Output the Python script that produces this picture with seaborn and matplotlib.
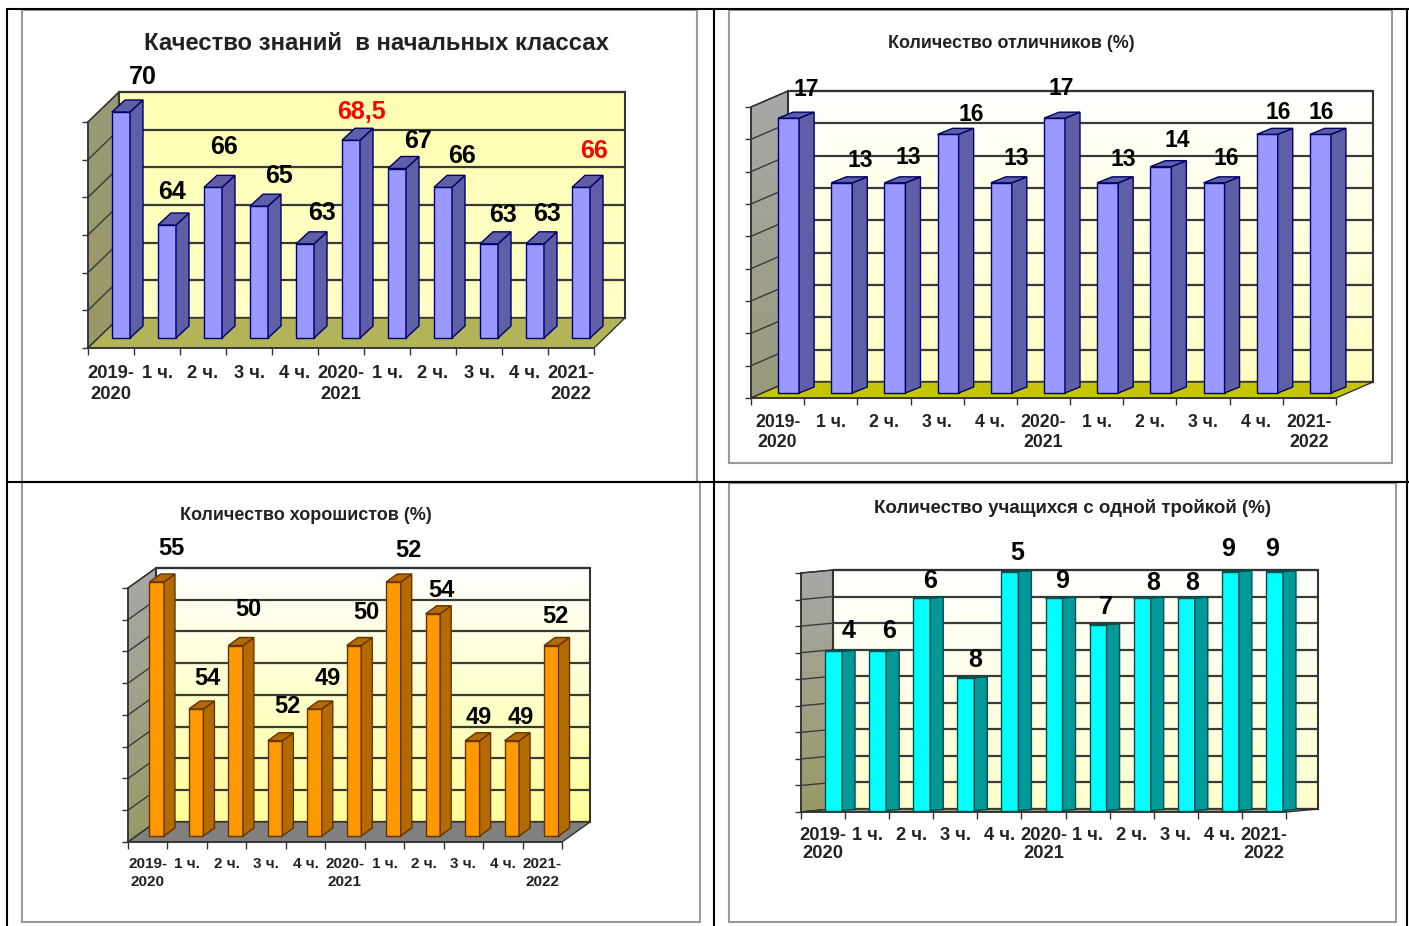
import numpy as np
import pandas as pd
import matplotlib
matplotlib.use("Agg")
import matplotlib.pyplot as plt
import seaborn as sns
from matplotlib.colors import LinearSegmentedColormap
from matplotlib.patches import Polygon, Rectangle
from matplotlib.transforms import Affine2D, IdentityTransform

W, H = 1409, 926

periods = ["2019-\n2020", "1 ч.", "2 ч.", "3 ч.", "4 ч.", "2020-\n2021",
           "1 ч.", "2 ч.", "3 ч.", "4 ч.", "2021-\n2022"]

# bar heights as drawn, the printed labels do not always agree with them
quality_values = [70, 64, 66, 65, 63, 68.5, 67, 66, 63, 63, 66]
quality_labels = ["70", "64", "66", "65", "63", "68,5", "67", "66", "63", "63", "66"]
excellent_values = [17, 13, 13, 16, 13, 17, 13, 14, 13, 16, 16]
excellent_labels = ["17", "13", "13", "16", "13", "17", "13", "14", "16", "16", "16"]
good_values = [55, 51, 53, 50, 51, 53, 55, 54, 50, 50, 53]
good_labels = ["55", "54", "50", "52", "49", "50", "52", "54", "49", "49", "52"]
one_three_values = [6, 6, 8, 5, 9, 8, 7, 8, 8, 9, 9]
one_three_labels = ["4", "6", "6", "8", "5", "9", "7", "8", "8", "9", "9"]

panels = [
    dict(title="Качество знаний  в начальных классах", title_xy=(376, 44), title_size=17.2,
         values=quality_values, labels=quality_labels, red=[5, 10],
         box=(88, 594, 122, 348), depth=(31, 30), bar_off=(10, 10), bar_w=18, bar_depth=(13, 12),
         ylim=(58, 70), step=2,
         label_dx=[22, 5, 11, 20, 17, 10, 21, 19, 14, 12, 13],
         label_dy=[35, 33, 40, 30, 31, 28, 27, 31, 29, 30, 36],
         label_size=18, tick_size=13.2, tick_pad=12, line_sp=1.3,
         front="#9999FF", side="#5F5FA8", edge="#000066",
         wall=("#FFFFC8", "#FFFFB4"), floor="#B3B35A", left=("#999966", "#999977")),
    dict(title="Количество отличников (%)", title_xy=(1011, 43), title_size=12.9,
         values=excellent_values, labels=excellent_labels, red=[],
         box=(751, 1336, 107, 398), depth=(37, 16), bar_off=(11, 5), bar_w=21, bar_depth=(15, 6),
         ylim=(0, 18), step=2,
         label_dx=[18, 19, 13, 23, 15, 7, 16, 16, 12, 11, 1],
         label_dy=[29, 22, 25, 20, 24, 30, 23, 26, 24, 22, 22],
         label_size=16.5, tick_size=12.7, tick_pad=11.5, line_sp=1.2,
         front="#9999FF", side="#5F5FA8", edge="#000066",
         wall=("#FFFFC0", "#FFFFFF"), floor="#C4C400", left=("#99997A", "#A8A8A8")),
    dict(title="Количество хорошистов (%)", title_xy=(306, 515), title_size=13,
         values=good_values, labels=good_labels, red=[],
         box=(128, 562, 588, 842), depth=(28, 20), bar_off=(9, 6), bar_w=14.5, bar_depth=(11, 8),
         ylim=(47, 55), step=1,
         label_dx=[15, 11, 13, 12, 13, 12, 15, 8, 6, 9, 4],
         label_dy=[33, 30, 36, 34, 30, 33, 31, 23, 23, 23, 29],
         label_size=17, tick_size=11, tick_pad=11, line_sp=1.3,
         front="#FF9900", side="#B36B00", edge="#663300",
         wall=("#FFFF99", "#FFFFFF"), floor="#808080", left=("#999966", "#A8A8A8")),
    dict(title="Количество учащихся с одной тройкой (%)", title_xy=(1072, 508), title_size=13.5,
         values=one_three_values, labels=one_three_labels, red=[],
         box=(801, 1286, 573, 812), depth=(32, 3), bar_off=(10.5, 1.5), bar_w=17, bar_depth=(13, 1),
         ylim=(0, 9), step=1,
         label_dx=[15, 11, 8, 9, 7, 8, 8, 11, 6, -2, -2],
         label_dy=[20, 20, 17, 18, 18, 17, 18, 15, 15, 22, 22],
         label_size=18, tick_size=13.2, tick_pad=10.5, line_sp=1.1,
         front="#00FFFF", side="#009999", edge="#004D4D",
         wall=("#FFFFCC", "#FFFFFF"), floor="#999966", left=("#999966", "#A8A8A8")),
]

sns.set_style("white")
plt.rcParams["font.family"] = ["Liberation Sans", "DejaVu Sans"]

fig = plt.figure(figsize=(W / 100, H / 100), dpi=100, facecolor="white")

# page: table rules and the grey chart frames, in picture pixels
bg = fig.add_axes([0, 0, 1, 1])
bg.set_xlim(0, W)
bg.set_ylim(H, 0)
bg.axis("off")
bg.plot([7, 7], [9, H], color="black", lw=1.5)
bg.plot([714, 714], [9, H], color="black", lw=1.5)
bg.plot([1407, 1407], [9, H], color="black", lw=1.5)
bg.plot([7, W], [9, 9], color="black", lw=1.5)
bg.plot([7, W], [482, 482], color="black", lw=1.5)
for x0, x1, y0, y1 in [(22, 697, 10, 482), (729, 1392, 10, 463), (22, 700, 482, 922), (729, 1396, 483, 922)]:
    bg.add_patch(Rectangle((x0, y0), x1 - x0, y1 - y0, facecolor="white", edgecolor="#9A9A9A", lw=1.5))
bg.plot([714, W], [482, 482], color="black", lw=1.5)


def gradient(ax, colors, extent, clip_pts):
    cmap = LinearSegmentedColormap.from_list("g", colors)
    im = ax.imshow(np.linspace(0, 1, 128)[:, None], cmap=cmap, extent=extent, origin="lower",
                   aspect="auto", transform=IdentityTransform(), zorder=0)
    im.set_clip_box(fig.bbox)  # the walls stick out of the axes box
    im.set_clip_path(Polygon(clip_pts, transform=IdentityTransform()))


def draw_panel(p):
    left, right, top, bottom = p["box"]
    dx, dy = p["depth"]
    ymin, ymax = p["ylim"]
    cat_w = (right - left) / len(periods)

    ax = fig.add_axes([left / W, (H - bottom) / H, (right - left) / W, (bottom - top) / H])
    ax.patch.set_visible(False)
    df = pd.DataFrame({"pos": range(len(periods)), "value": p["values"]})
    sns.barplot(data=df, x="pos", y="value", color=p["front"], saturation=1,
                width=p["bar_w"] / cat_w, edgecolor=p["edge"], linewidth=1, ax=ax)
    ax.set_xlim(-0.5, len(periods) - 0.5)
    ax.set_ylim(ymin, ymax)
    ax.set_xlabel("")
    ax.set_ylabel("")

    to_px = ax.transData.transform
    (x0, y0), (x1, y1) = to_px((-0.5, ymin)), to_px((len(periods) - 0.5, ymax))

    # back wall, left wall and floor
    back_pts = [(x0 + dx, y0 + dy), (x1 + dx, y0 + dy), (x1 + dx, y1 + dy), (x0 + dx, y1 + dy)]
    gradient(ax, p["wall"], (x0 + dx, x1 + dx, y0 + dy, y1 + dy), back_pts)
    left_pts = [(x0, y0), (x0 + dx, y0 + dy), (x0 + dx, y1 + dy), (x0, y1)]
    gradient(ax, p["left"], (x0, x0 + dx, y0, y1 + dy), left_pts)
    floor_pts = [(x0, y0), (x1, y0), (x1 + dx, y0 + dy), (x0 + dx, y0 + dy)]
    ax.add_patch(Polygon(floor_pts, facecolor=p["floor"], edgecolor="#333333", lw=1,
                         transform=IdentityTransform(), clip_on=False, zorder=0.8))
    ax.add_patch(Polygon(back_pts, fill=False, edgecolor="#333333", lw=1.5,
                         transform=IdentityTransform(), clip_on=False, zorder=0.6))
    ax.add_patch(Polygon(left_pts, fill=False, edgecolor="#333333", lw=1,
                         transform=IdentityTransform(), clip_on=False, zorder=0.6))

    # grid on both walls
    levels = np.arange(ymin, ymax + p["step"] / 2, p["step"])
    back = ax.transData + Affine2D().translate(dx, dy)
    for v in levels:
        ax.plot([-0.5, len(periods) - 0.5], [v, v], color="#3A3A3A", lw=1.6,
                transform=back, clip_on=False, zorder=0.5)
        _, yv = to_px((-0.5, v))
        ax.plot([x0, x0 + dx], [yv, yv + dy], color="#3A3A3A", lw=1,
                transform=IdentityTransform(), clip_on=False, zorder=0.5)

    # bars pushed into the depth, with side and top faces
    shift = ax.transData + Affine2D().translate(*p["bar_off"])
    bar_dx, bar_dy = p["bar_depth"]
    for i, bar in enumerate(ax.containers[0]):
        bar.set_y(ymin)
        bar.set_height(p["values"][i] - ymin)
        bar.set_transform(shift)
        bar.set_clip_on(False)
        bar.set_zorder(3)
        xl, yb = shift.transform((bar.get_x(), ymin))
        xr, yt = shift.transform((bar.get_x() + bar.get_width(), p["values"][i]))
        side = [(xr, yb), (xr + bar_dx, yb + bar_dy), (xr + bar_dx, yt + bar_dy), (xr, yt)]
        cap = [(xl, yt), (xr, yt), (xr + bar_dx, yt + bar_dy), (xl + bar_dx, yt + bar_dy)]
        for pts in (side, cap):
            ax.add_patch(Polygon(pts, facecolor=p["side"], edgecolor=p["edge"], lw=1,
                                 transform=IdentityTransform(), clip_on=False, zorder=3))
        color = "#FF0000" if i in p["red"] else "black"
        ax.annotate(p["labels"][i], xy=((xl + xr) / 2, yt), xycoords=IdentityTransform(),
                    xytext=(p["label_dx"][i] * 0.72, p["label_dy"][i] * 0.72), textcoords="offset points",
                    ha="center", va="center", fontsize=p["label_size"], fontweight="bold",
                    color=color, annotation_clip=False, zorder=5)

    # axes
    sns.despine(ax=ax, top=True, right=True, left=False, bottom=False)
    for s in ("left", "bottom"):
        ax.spines[s].set_color("#333333")
        ax.spines[s].set_linewidth(1.2)
    ax.set_yticks(levels, [""] * len(levels))
    ax.set_xticks(range(len(periods)), periods)
    ax.set_xticks(np.arange(-0.5, len(periods)), minor=True)
    ax.tick_params(axis="y", left=True, length=4, width=1, color="#333333")
    ax.tick_params(axis="x", which="major", bottom=False, length=0, pad=p["tick_pad"], labelsize=p["tick_size"])
    ax.tick_params(axis="x", which="minor", bottom=True, length=5, width=1, color="#333333")
    for t in ax.get_xticklabels():
        t.set_fontweight("bold")
        t.set_color("#222222")
        t.set_linespacing(p["line_sp"])

    bg.text(*p["title_xy"], p["title"], ha="center", va="center", fontsize=p["title_size"],
            fontweight="bold", color="#222222")


for panel in panels:
    draw_panel(panel)

fig.savefig("out.png", dpi=100)
